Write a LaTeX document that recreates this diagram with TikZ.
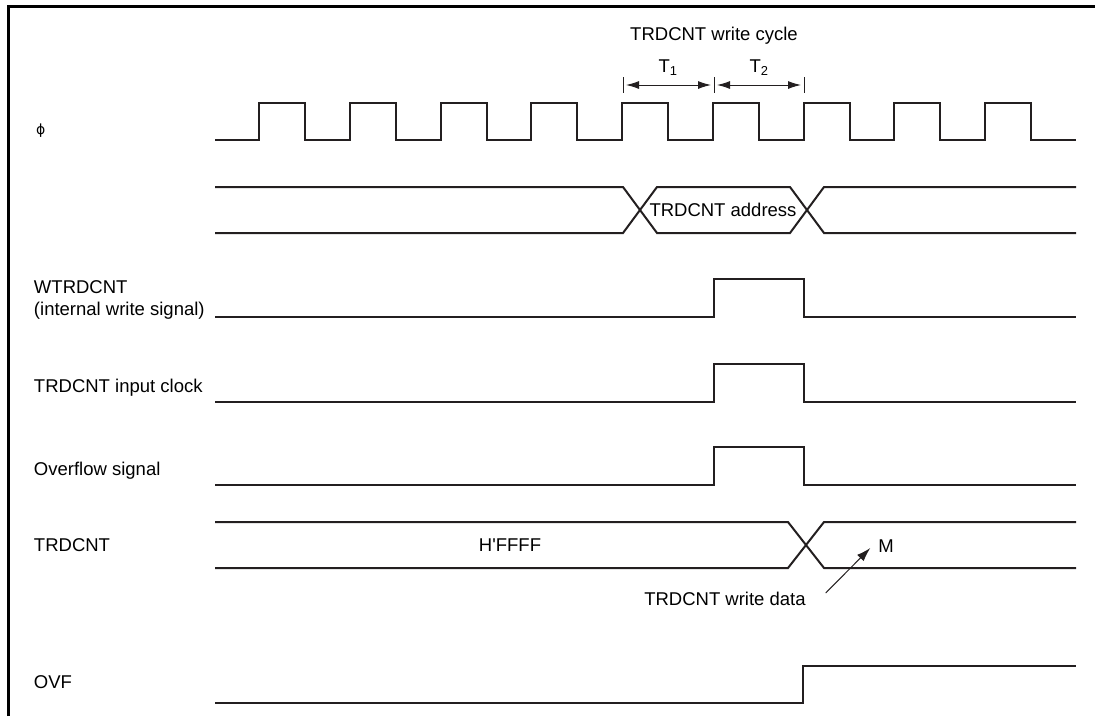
\documentclass[tikz,border=0pt]{standalone}
\usepackage{fontspec}
\setmainfont{Liberation Sans}
\newfontfamily\phifont{DejaVu Sans}
\usetikzlibrary{positioning, arrows.meta}
\definecolor{sigblack}{HTML}{231F20}

\begin{document}
\begin{tikzpicture}[x=1pt, y=-1pt, line width=2pt,
    lbl/.style={anchor=west, inner sep=0pt, font=\fontsize{18.5}{21}\selectfont},
    txt/.style={inner sep=0pt, font=\fontsize{18.5}{21}\selectfont},
    wave/.style={draw=sigblack, line width=2pt},
    dimarrow/.style={draw=sigblack, line width=1pt, {Latex[length=13pt,width=8pt]}-{Latex[length=13pt,width=8pt]}}]
    \useasboundingbox (0,0) rectangle (1095,716);
    % frame
    \draw[line width=3pt] (8,716) -- (8,6) -- (1095,6);

    % signal names
    \node[lbl, font=\phifont\fontsize{14}{16}\selectfont] (lphi) at (35,131) {ϕ};
    \node[lbl] (lwtr) at (33,287) {WTRDCNT};
    \node[lbl] (lwtrb) at (33,311) {(internal write signal)};
    \node[lbl] (lclk) at (33,388) {TRDCNT input clock};
    \node[lbl] (lovfs) at (33,471) {Overflow signal};
    \node[lbl] (lcnt) at (33,545) {TRDCNT};
    \node[lbl] (lovf) at (33,682) {OVF};

    % clock
    \draw[wave] (215,140) \foreach \k in {0,...,8}{
        -- ({259+90.75*\k},140) -- ++(0,-37) -- ++(46,0) -- ++(0,37)} -- (1076,140);

    % address bus
    \draw[wave] (215,187) -- (623,187) -- (657,233) -- (790,233) -- (824,187) -- (1076,187);
    \draw[wave] (215,233) -- (623,233) -- (657,187) -- (790,187) -- (824,233) -- (1076,233);
    \node[txt] (addr) at (723,210) {TRDCNT address};

    % pulses
    \foreach \y in {317,402,485}
      \draw[wave] (215,\y) -- (714,\y) -- (714,\y-38) -- (804,\y-38) -- (804,\y) -- (1076,\y);

    % counter bus
    \draw[wave] (215,522) -- (788,522) -- (824,568) -- (1076,568);
    \draw[wave] (215,568) -- (788,568) -- (824,522) -- (1076,522);
    \node[txt] (cntold) at (510,545) {H\textquotesingle FFFF};
    \node[txt] (cntnew) at (886,546) {M};
    \node[txt] (wdata) at (725,599) {TRDCNT write data};
    \draw[draw=sigblack, line width=1pt, -{Latex[length=14pt,width=9pt]}]
        ([xshift=19pt,yshift=6pt]wdata.east) -- ([xshift=-7pt,yshift=-2pt]cntnew.west);

    % OVF
    \draw[wave] (215,703) -- (803,703) -- (803,666) -- (1076,666);

    % write cycle
    \coordinate (b1) at (623,85);
    \coordinate (b2) at (714,85);
    \coordinate (b3) at (804,85);
    \foreach \b in {b1,b2,b3}
      \draw[draw=sigblack, line width=1pt] ([yshift=8pt]\b) -- ([yshift=-8pt]\b);
    \draw[dimarrow] ([xshift=3pt]b1) -- ([xshift=-3pt]b2);
    \draw[dimarrow] ([xshift=3pt]b2) -- ([xshift=-3pt]b3);
    \node[txt] (tone) at (668,68) {T\textsubscript{1}};
    \node[txt] (ttwo) at (759,68) {T\textsubscript{2}};
    \node[txt] (cycle) at (714,36) {TRDCNT write cycle};
  \end{tikzpicture}
\end{document}
